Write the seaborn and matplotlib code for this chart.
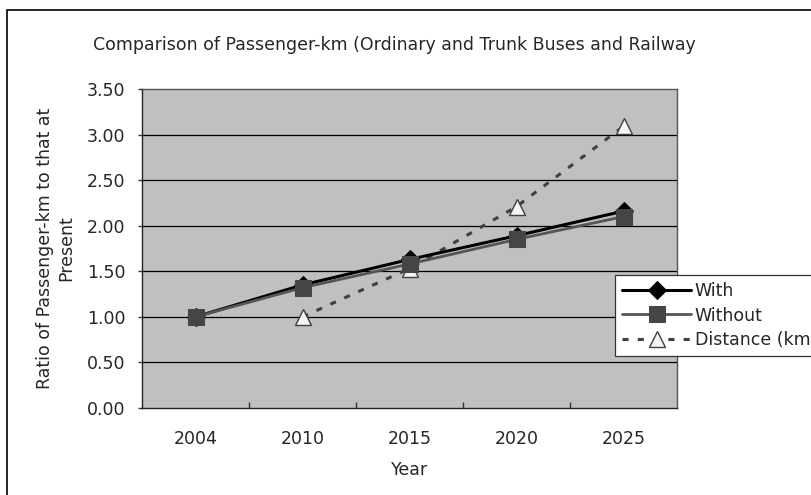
import matplotlib
matplotlib.use("Agg")
import matplotlib.pyplot as plt
from matplotlib.patches import Rectangle
import seaborn as sns
import pandas as pd

years = ["2004", "2010", "2015", "2020", "2025"]
with_vals = [1.00, 1.35, 1.63, 1.89, 2.16]
without_vals = [1.00, 1.32, 1.58, 1.85, 2.10]
distance_years = ["2010", "2015", "2020", "2025"]
distance_vals = [1.00, 1.53, 2.21, 3.09]
y_ticks = [0.0, 0.5, 1.0, 1.5, 2.0, 2.5, 3.0, 3.5]

sns.set_theme(style="white")
plt.rcParams["font.family"] = ["DejaVu Sans"]
FS = 12.5

pos = {y: i for i, y in enumerate(years)}
df_with = pd.DataFrame({"x": [pos[y] for y in years], "v": with_vals})
df_without = pd.DataFrame({"x": [pos[y] for y in years], "v": without_vals})
df_dist = pd.DataFrame({"x": [pos[y] for y in distance_years], "v": distance_vals})

fig = plt.figure(figsize=(8.11, 4.95), dpi=100)
fig.patch.set_facecolor("white")
ax = fig.add_axes([142 / 811, 1 - 408 / 495, (677 - 142) / 811, (408 - 89) / 495])
ax.set_facecolor("#c0c0c0")

# outer chart frame (runs off the right and bottom edges)
fig.patches.append(Rectangle((7 / 811, -0.1), 1.2, 1 - 10 / 495 + 0.1,
                             transform=fig.transFigure, fill=False,
                             edgecolor="black", linewidth=1.2, zorder=-1))

for t in y_ticks[1:-1]:
    ax.axhline(t, color="black", linewidth=0.9, zorder=1)

sns.lineplot(data=df_dist, x="x", y="v", ax=ax, color="#404040",
             linestyle=(0, (2, 3)), linewidth=2.2, marker="^", markersize=12,
             markerfacecolor="#f4f4f4", markeredgecolor="#404040",
             markeredgewidth=1.0, label="Distance (km", zorder=3)
sns.lineplot(data=df_with, x="x", y="v", ax=ax, color="black", linewidth=2.2,
             marker="D", markersize=9, markerfacecolor="black",
             markeredgecolor="black", label="With", zorder=4)
sns.lineplot(data=df_without, x="x", y="v", ax=ax, color="#555555", linewidth=2.0,
             marker="s", markersize=11, markerfacecolor="#454545",
             markeredgecolor="#454545", label="Without", zorder=5)

ax.set_xlim(-0.5, 4.5)
ax.set_ylim(0, 3.5)
ax.set_xticks(range(len(years)))
ax.set_xticklabels(years, fontsize=FS)
ax.set_xticks([i + 0.5 for i in range(len(years) - 1)], minor=True)
ax.tick_params(axis="x", which="major", length=0, pad=16)
ax.tick_params(axis="x", which="minor", direction="in", length=4, width=1, color="#333333", bottom=True)
ax.set_yticks(y_ticks)
ax.set_yticklabels([f"{t:.2f}" for t in y_ticks], fontsize=FS)
ax.tick_params(axis="y", which="major", direction="out", length=3, width=1,
               color="#333333", left=True, pad=9)

for s in ax.spines.values():
    s.set_color("#555555")
    s.set_linewidth(1.0)
ax.spines["bottom"].set_color("#222222")
ax.spines["left"].set_color("#222222")

ax.set_xlabel("Year", fontsize=FS, labelpad=9)
ax.set_ylabel("Ratio of Passenger-km to that at\nPresent", fontsize=FS, labelpad=8,
              linespacing=1.3)

fig.text(93 / 811, 1 - 45 / 495, "Comparison of Passenger-km (Ordinary and Trunk Buses and Railway",
         fontsize=FS, ha="left", va="center")

handles, labels = ax.get_legend_handles_labels()
order = [labels.index("With"), labels.index("Without"), labels.index("Distance (km")]
leg = ax.legend([handles[i] for i in order], [labels[i] for i in order],
                loc="upper left", bbox_to_anchor=(615 / 811, 1 - 275 / 495),
                bbox_transform=fig.transFigure, fontsize=FS, frameon=True,
                fancybox=False, edgecolor="#333333", framealpha=1,
                handlelength=4.0, handletextpad=0.2, borderpad=0.4,
                labelspacing=0.38, borderaxespad=0)
leg.get_frame().set_linewidth(0.9)

fig.savefig("out.png", dpi=100)
